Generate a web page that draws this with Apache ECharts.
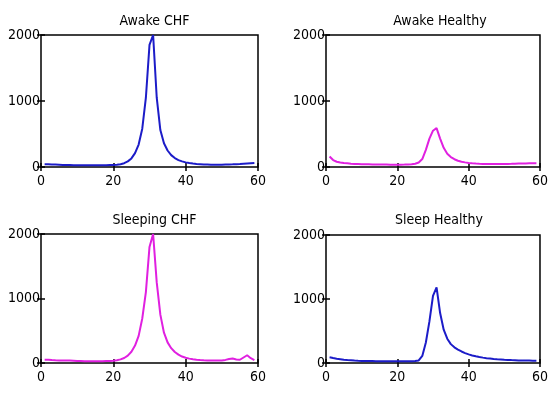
<!DOCTYPE html>
<html><head><meta charset="utf-8">
<script src="https://cdn.jsdelivr.net/npm/echarts@6/dist/echarts.min.js"></script>
<style>html,body{margin:0;padding:0;background:#fff}#c{width:551px;height:394px}</style>
</head><body><div id="c"></div>
<script>
var xValues = [1,2,3,4,5,6,7,8,9,10,11,12,13,14,15,16,17,18,19,20,21,22,23,24,25,26,27,28,29,30,31,32,33,34,35,36,37,38,39,40,41,42,43,44,45,46,47,48,49,50,51,52,53,54,55,56,57,58,59];
var awakeCHF = [40,40,38,36,34,32,30,30,28,28,27,27,26,26,26,27,27,28,29,30,34,42,58,85,130,210,340,580,1050,1850,2000,1050,560,360,250,180,135,105,85,70,60,52,46,42,38,36,34,33,33,34,36,38,40,43,46,50,54,58,62];
var awakeHealthy = [160,105,80,68,60,55,50,47,45,43,41,40,39,38,37,36,36,35,35,35,35,36,38,42,50,68,120,260,430,550,590,430,290,200,150,118,95,80,70,62,56,52,49,47,45,44,44,44,45,46,47,48,50,52,53,54,55,55,55];
var sleepingCHF = [50,50,45,42,40,38,38,38,35,32,30,28,28,27,27,28,28,30,32,36,44,56,78,115,175,270,420,690,1100,1800,2000,1250,750,470,320,230,170,130,100,82,68,58,50,45,42,40,38,38,38,40,48,62,70,55,50,85,120,75,45];
var sleepHealthy = [90,78,68,60,52,46,42,38,35,33,32,31,30,29,28,28,27,27,26,26,26,26,26,27,30,40,110,320,650,1050,1180,780,520,380,295,245,210,180,155,135,118,105,94,84,76,70,64,59,55,51,48,45,43,41,40,39,38,37,36];
var titles = ['Awake CHF','Awake Healthy','Sleeping CHF','Sleep Healthy'];
var xTicks = [0,20,40,60];
var yTicks = [0,1000,2000];

var BLUE = '#1c1cc8', MAG = '#e020e0';
var seriesData = [awakeCHF, awakeHealthy, sleepingCHF, sleepHealthy];
var colors = [BLUE, MAG, MAG, BLUE];
var grids = [
  {left:41, top:35, width:217, height:132},
  {left:326, top:35, width:218, height:132},
  {left:41, top:234, width:217, height:129},
  {left:326, top:235, width:216, height:128}
];
var titleTop = [9, 9, 208, 208];
var FONT = '"DejaVu Sans Condensed","Liberation Sans Narrow",sans-serif';

var option = {
  animation:false,
  backgroundColor:'#fff',
  title: [], grid: [], xAxis: [], yAxis: [], series: []
};
function fmt(v){ return String(v); }
grids.forEach(function(g, i){
  option.grid.push({left:g.left, top:g.top, width:g.width, height:g.height, show:true, borderColor:'#000', borderWidth:1.5, backgroundColor:'transparent'});
  option.title.push({text:titles[i], left:g.left + g.width/2, top:titleTop[i], textAlign:'center',
    textStyle:{fontFamily:FONT, fontSize:14, fontWeight:'normal', color:'#000'}});
  var xmin = xTicks[0], xmax = xTicks[xTicks.length-1], xint = xTicks[1]-xTicks[0];
  var ymin = yTicks[0], ymax = yTicks[yTicks.length-1], yint = yTicks[1]-yTicks[0];
  option.xAxis.push({type:'value', gridIndex:i, min:xmin, max:xmax, interval:xint, position:'bottom',
    axisLine:{show:false}, splitLine:{show:false},
    axisTick:{inside:true, length:4, lineStyle:{color:'#000', width:1.5}},
    axisLabel:{margin:7, fontFamily:FONT, fontSize:14, color:'#000', formatter:fmt}});
  option.xAxis.push({type:'value', gridIndex:i, min:xmin, max:xmax, interval:xint, position:'top',
    axisLine:{show:false}, splitLine:{show:false},
    axisTick:{inside:true, length:4, lineStyle:{color:'#000', width:1.5}},
    axisLabel:{show:false}});
  option.yAxis.push({type:'value', gridIndex:i, min:ymin, max:ymax, interval:yint, position:'left',
    axisLine:{show:false}, splitLine:{show:false},
    axisTick:{inside:true, length:4, lineStyle:{color:'#000', width:1.5}},
    axisLabel:{margin:1, fontFamily:FONT, fontSize:14, color:'#000', formatter:fmt}});
  option.yAxis.push({type:'value', gridIndex:i, min:ymin, max:ymax, interval:yint, position:'right',
    axisLine:{show:false}, splitLine:{show:false},
    axisTick:{inside:true, length:4, lineStyle:{color:'#000', width:1.5}},
    axisLabel:{show:false}});
  var d = xValues.map(function(x, k){ return [x, seriesData[i][k]]; });
  option.series.push({type:'line', xAxisIndex:2*i, yAxisIndex:2*i, data:d, showSymbol:false, symbol:'none',
    lineStyle:{color:colors[i], width:2}, itemStyle:{color:colors[i]}, clip:true});
});
var chart = echarts.init(document.getElementById('c'), null, {renderer:'canvas'});
chart.setOption(option);
</script></body></html>
